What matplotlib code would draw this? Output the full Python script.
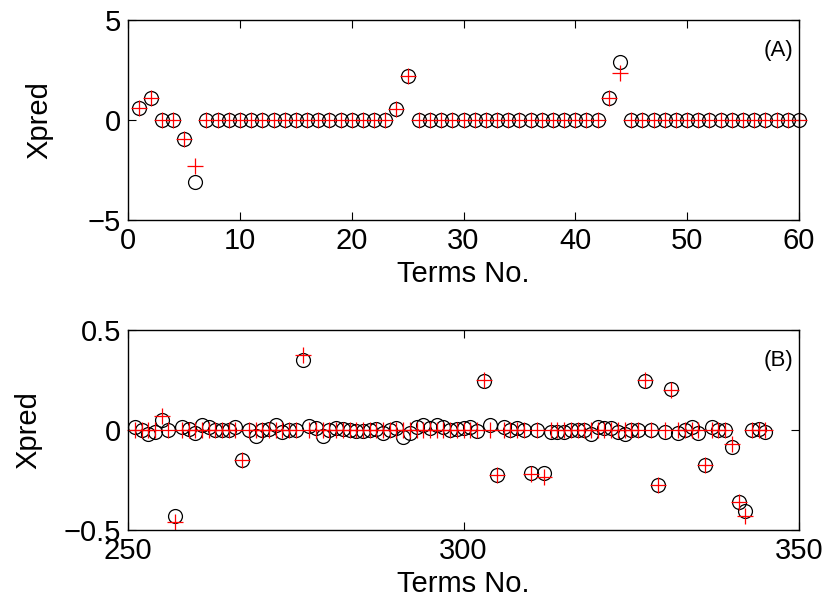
import numpy as np
import matplotlib.pyplot as plt

plt.rcParams['font.family'] = ['Liberation Sans', 'DejaVu Sans']

# panel A: terms 1..60
terms_a = list(range(1, 61))
xpred_a_circ = [0.6, 1.1, 0, 0, -0.95, -3.1] + [0] * 17 + [0.55, 2.2] + [0] * 17 + [1.1, 2.9] + [0] * 16
xpred_a_plus = [0.6, 1.1, 0, 0, -0.95, -2.3] + [0] * 17 + [0.55, 2.2] + [0] * 17 + [1.1, 2.35] + [0] * 16

# panel B: terms 251..345
terms_b = list(range(251, 346))
xpred_b_circ = [
    0.017, 0.0, -0.02, -0.01, 0.05, 0.0, -0.43, 0.013, 0.005, -0.013,     # 251-260
    0.025, 0.013, 0.0, 0.0, 0.0, 0.017, -0.15, 0.0, -0.03, 0.0,           # 261-270
    0.005, 0.025, -0.01, 0.0, 0.0, 0.35, 0.02, 0.01, -0.03, 0.0,          # 271-280
    0.01, 0.005, 0.0, -0.005, -0.005, 0.0, 0.005, -0.015, 0.0, 0.01,      # 281-290
    -0.035, -0.015, 0.015, 0.025, 0.01, 0.025, 0.015, 0.0, 0.005, 0.01,   # 291-300
    0.015, -0.005, 0.245, 0.025, -0.225, 0.017, 0.0, 0.01, 0.0, -0.215,   # 301-310
    0.0, -0.215, -0.01, -0.01, -0.01, 0.0, 0.0, 0.0, -0.02, 0.017,        # 311-320
    0.01, 0.01, -0.01, -0.02, 0.0, 0.0, 0.245, 0.0, -0.275, -0.01,        # 321-330
    0.205, -0.015, 0.0, 0.015, -0.015, -0.175, 0.015, 0.0, 0.0, -0.085,   # 331-340
    -0.36, -0.405, 0.0, 0.005, -0.01,                                     # 341-345
]
xpred_b_plus = [
    0, 0, 0, 0, 0.07, 0, -0.46, 0, 0, 0,
    0, 0, 0, 0, 0, 0, -0.15, 0, 0, 0,
    0, 0, 0, 0, 0, 0.375, 0, 0, 0, 0,
    0, 0, 0, 0, 0, 0, 0, 0, 0, 0,
    0, 0, 0, 0, 0, 0, 0, 0, 0, 0,
    0, 0, 0.25, 0, -0.225, 0, 0, 0, 0, -0.22,
    0, -0.235, 0, 0, 0, 0, 0, 0, 0, 0,
    0, 0, 0, 0, 0, 0, 0.25, 0, -0.275, 0,
    0.2, 0, 0, 0, 0, -0.175, 0, 0, 0, -0.07,
    -0.36, -0.43, 0, 0, 0,
]

fs = 21
fig = plt.figure(figsize=(8.27, 6.09), dpi=100)
axA = fig.add_axes([0.155, 0.639, 0.811, 0.328])
axB = fig.add_axes([0.155, 0.130, 0.811, 0.328])

def draw(ax, x, yc, yp, ylab_x):
    ax.plot(x, yc, 'o', mfc='none', mec='k', ms=10, mew=0.9, clip_on=False)
    ax.plot(x, yp, '+', color='red', ms=11, mew=0.9, clip_on=False)
    ax.tick_params(direction='in', top=True, right=True, labelsize=fs,
                   length=6, width=0.8, pad=5)
    for s in ax.spines.values():
        s.set_linewidth(1.0)
    ax.set_xlabel('Terms No.', fontsize=fs, labelpad=4)
    ax.set_ylabel('Xpred', fontsize=fs)
    ax.yaxis.set_label_coords(ylab_x, 0.5)

draw(axA, terms_a, xpred_a_circ, xpred_a_plus, -0.112)
axA.set_xlim(0, 60)
axA.set_ylim(-5, 5)
axA.set_xticks([0, 10, 20, 30, 40, 50, 60])
axA.set_yticks([-5, 0, 5])
axA.text(0.992, 0.85, '(A)', transform=axA.transAxes, ha='right', va='center', fontsize=16)

draw(axB, terms_b, xpred_b_circ, xpred_b_plus, -0.128)
axB.set_xlim(250, 350)
axB.set_ylim(-0.5, 0.5)
axB.set_xticks([250, 300, 350])
axB.set_yticks([-0.5, 0, 0.5])
axB.set_yticklabels(['\u22120.5', '0', '0.5'])
axB.text(0.992, 0.85, '(B)', transform=axB.transAxes, ha='right', va='center', fontsize=16)

fig.savefig('out.png', dpi=100)
